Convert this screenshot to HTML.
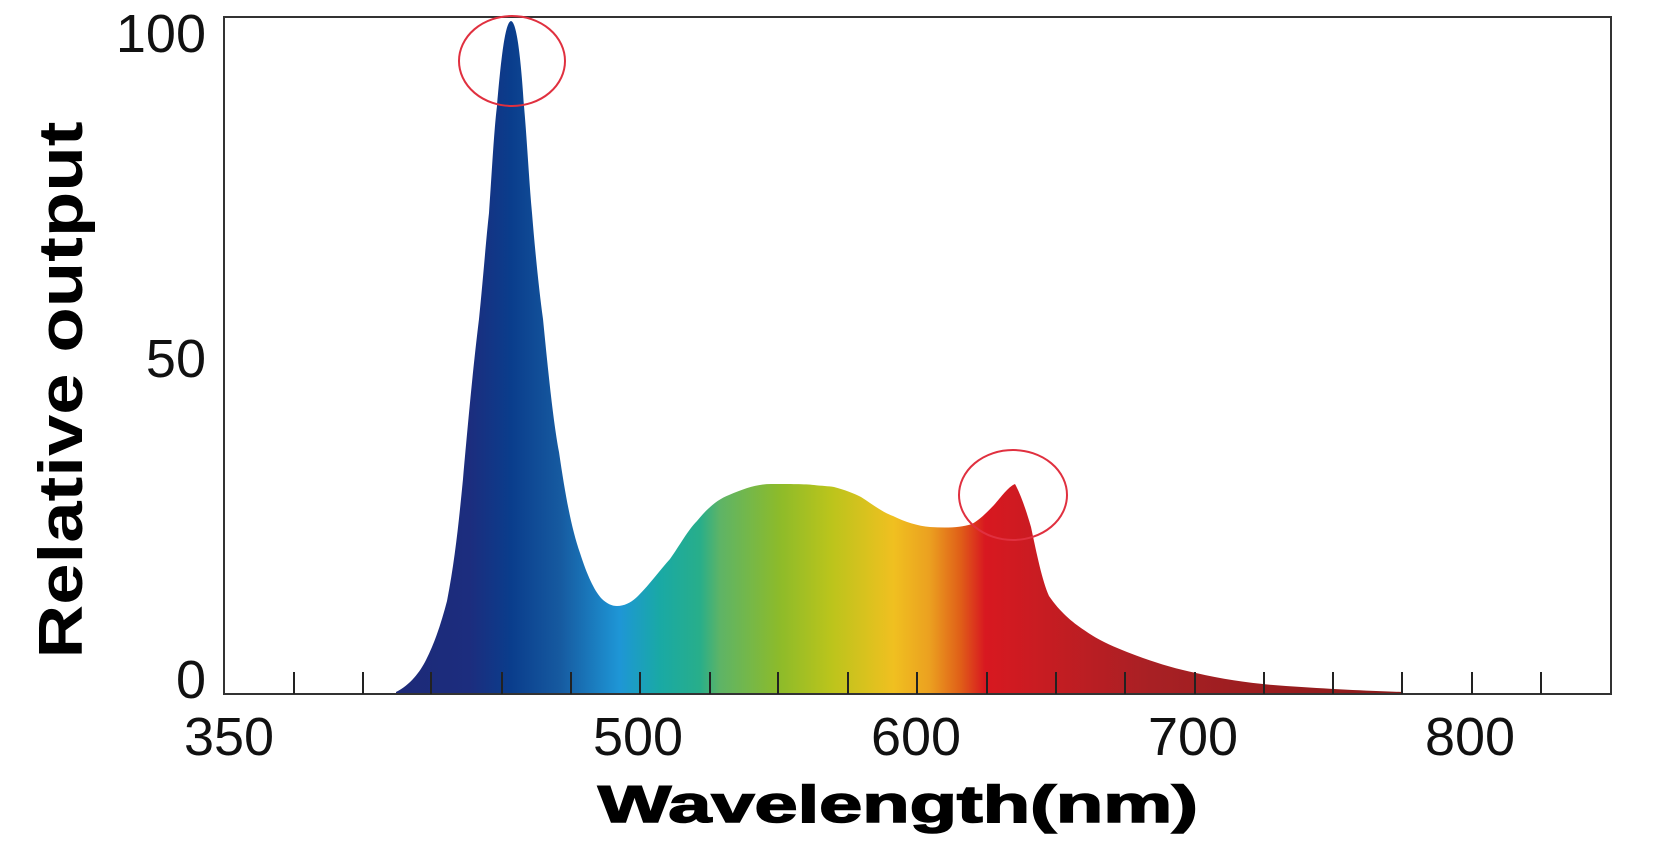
<!DOCTYPE html>
<html><head><meta charset="utf-8"><style>
html,body{margin:0;padding:0;background:#fff;}
svg{display:block;}
</style></head><body>
<svg width="1668" height="848" viewBox="0 0 1668 848" xmlns="http://www.w3.org/2000/svg">
<defs>
<linearGradient id="g" gradientUnits="userSpaceOnUse" x1="396" y1="0" x2="1403" y2="0">
<stop offset="0" stop-color="#1d2a78"/>
<stop offset="0.073" stop-color="#1c2d7e"/>
<stop offset="0.114" stop-color="#0a3d8c"/>
<stop offset="0.163" stop-color="#165aa0"/>
<stop offset="0.222" stop-color="#1e96d6"/>
<stop offset="0.262" stop-color="#19a9a5"/>
<stop offset="0.302" stop-color="#28ae8a"/>
<stop offset="0.322" stop-color="#5eb466"/>
<stop offset="0.381" stop-color="#8dbb2a"/>
<stop offset="0.431" stop-color="#bac41c"/>
<stop offset="0.494" stop-color="#f0c020"/>
<stop offset="0.530" stop-color="#eba020"/>
<stop offset="0.560" stop-color="#e06018"/>
<stop offset="0.585" stop-color="#d81820"/>
<stop offset="0.640" stop-color="#c81c22"/>
<stop offset="0.749" stop-color="#a82024"/>
<stop offset="1" stop-color="#8a1a1a"/>
</linearGradient>
</defs>
<path fill="url(#g)" d="M396,694 L396,692 C410,685 420,672 426,660 C436,640 442,620 447,601 C455,560 459,520 463,479 C470,400 474,360 479,319 C483,280 486,240 489,213 C492,170 494,130 497,106 C501,60 505,22 511,21 C517,22 521,60 524,106 C527,140 529,180 532,213 C535,250 539,290 543,319 C548,370 553,420 559,452 C566,500 572,530 580,553 C587,575 594,590 601,598 C607,604 612,606 617,606 C625,606 632,602 638,596 C650,584 660,570 670,559 C680,545 688,530 697,521 C706,510 716,500 729,495 C745,488 758,484 771,484 C790,484 805,484 814,485 C822,486 828,486 834,487 C845,490 853,493 861,497 C872,504 882,512 893,516 C905,522 918,526 930,527 C945,528 960,528 972,524 C982,518 988,511 994,505 C1001,497 1008,487 1015,484 C1021,495 1026,510 1031,527 C1037,555 1042,580 1049,596 C1060,612 1072,622 1084,630 C1098,640 1112,646 1127,652 C1150,661 1172,668 1196,673 C1226,680 1256,684 1286,686 C1330,689 1370,691 1403,692 L1403,694 Z"/>
<rect x="224" y="17" width="1387" height="677" fill="none" stroke="#333" stroke-width="2"/>
<g stroke="#222" stroke-width="2">
<line x1="294" y1="672" x2="294" y2="694"/><line x1="363" y1="672" x2="363" y2="694"/><line x1="431" y1="672" x2="431" y2="694"/><line x1="502" y1="672" x2="502" y2="694"/><line x1="571" y1="672" x2="571" y2="694"/><line x1="640" y1="672" x2="640" y2="694"/><line x1="710" y1="672" x2="710" y2="694"/><line x1="778" y1="672" x2="778" y2="694"/><line x1="848" y1="672" x2="848" y2="694"/><line x1="917" y1="672" x2="917" y2="694"/><line x1="987" y1="672" x2="987" y2="694"/><line x1="1056" y1="672" x2="1056" y2="694"/><line x1="1125" y1="672" x2="1125" y2="694"/><line x1="1195" y1="672" x2="1195" y2="694"/><line x1="1264" y1="672" x2="1264" y2="694"/><line x1="1333" y1="672" x2="1333" y2="694"/><line x1="1402" y1="672" x2="1402" y2="694"/><line x1="1472" y1="672" x2="1472" y2="694"/><line x1="1541" y1="672" x2="1541" y2="694"/>
</g>
<ellipse cx="512" cy="61" rx="53" ry="45" fill="none" stroke="#e0303f" stroke-width="2"/>
<ellipse cx="1013" cy="495" rx="54" ry="45" fill="none" stroke="#e0303f" stroke-width="2"/>
<g font-family="Liberation Sans, sans-serif" font-size="54" fill="#111">
<text x="206" y="52" text-anchor="end">100</text>
<text x="206" y="377" text-anchor="end">50</text>
<text x="206" y="698" text-anchor="end">0</text>
<text x="229" y="755" text-anchor="middle">350</text>
<text x="638" y="755" text-anchor="middle">500</text>
<text x="916" y="755" text-anchor="middle">600</text>
<text x="1193" y="755" text-anchor="middle">700</text>
<text x="1470" y="755" text-anchor="middle">800</text>
</g>
<text transform="translate(82,390) rotate(-90)" text-anchor="middle" font-family="Liberation Sans, sans-serif" font-weight="bold" font-size="62" fill="#000" textLength="537" lengthAdjust="spacingAndGlyphs">Relative output</text>
<text x="898" y="822" text-anchor="middle" font-family="Liberation Sans, sans-serif" font-weight="bold" font-size="52" fill="#000" stroke="#000" stroke-width="1.5" textLength="600" lengthAdjust="spacingAndGlyphs">Wavelength(nm)</text>
</svg>
</body></html>
